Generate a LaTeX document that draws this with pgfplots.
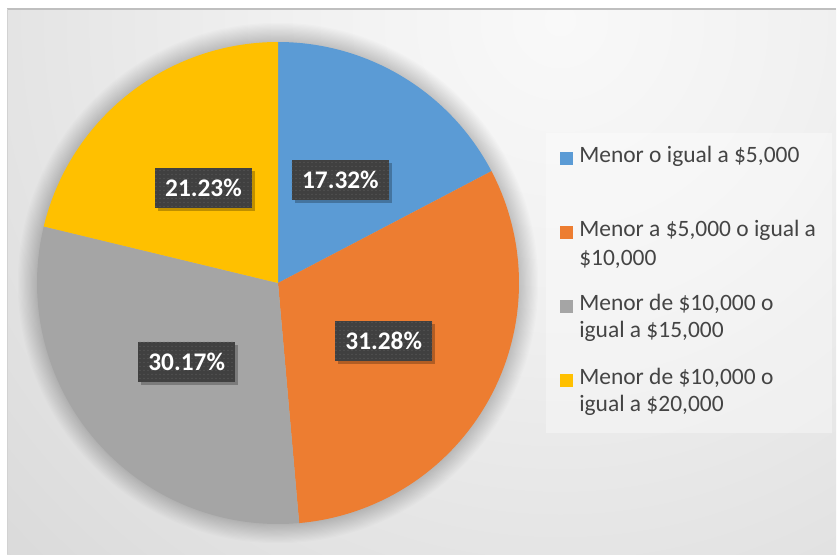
\documentclass[border=0pt]{standalone}
\usepackage{pgfplots}
\pgfplotsset{compat=1.18}
\usepackage{pgfplotstable}
\usepackage{fontspec}
\setmainfont{Carlito}
\usetikzlibrary{shadows,patterns}

\definecolor{sBlue}{HTML}{5B9BD5}
\definecolor{sOrange}{HTML}{ED7D31}
\definecolor{sGray}{HTML}{A5A5A5}
\definecolor{sYellow}{HTML}{FFC000}
\definecolor{lblbg}{HTML}{404040}
\definecolor{legtext}{HTML}{444444}
\definecolor{frameline}{HTML}{BFBFBF}
\definecolor{bgA}{HTML}{F9F9F9}
\definecolor{bgB}{HTML}{F1F1F1}
\definecolor{bgC}{HTML}{D9D9D9}
\definecolor{bgD}{HTML}{CCCCCC}
\definecolor{bgE}{HTML}{C2C2C2}

\pgfdeclareradialshading{bgshade}{\pgfpoint{0bp}{0bp}}{color(0bp)=(bgA); color(8bp)=(bgB); color(25bp)=(bgC); color(35bp)=(bgD); color(50bp)=(bgE)}

% shares of each income range, in percent
\pgfplotstableread{
idx value
0 17.32
1 31.28
2 30.17
3 21.23
}\piedata

\pgfplotstablegetelem{0}{value}\of\piedata \let\vA\pgfplotsretval
\pgfplotstablegetelem{1}{value}\of\piedata \let\vB\pgfplotsretval
\pgfplotstablegetelem{2}{value}\of\piedata \let\vC\pgfplotsretval
\pgfplotstablegetelem{3}{value}\of\piedata \let\vD\pgfplotsretval

% slice angles, clockwise from the top
\pgfmathsetmacro\aA{90}
\pgfmathsetmacro\aB{\aA-3.6*\vA}
\pgfmathsetmacro\aC{\aB-3.6*\vB}
\pgfmathsetmacro\aD{\aC-3.6*\vC}
\pgfmathsetmacro\aE{\aD-3.6*\vD}
\pgfmathsetmacro\mA{(\aA+\aB)/2}
\pgfmathsetmacro\mB{(\aB+\aC)/2}
\pgfmathsetmacro\mC{(\aC+\aD)/2}
\pgfmathsetmacro\mD{(\aD+\aE)/2}

\def\cx{278}\def\cy{271}
\def\R{180.75pt}

\tikzset{
  lbl/.style={fill=lblbg, text=white, font=\fontsize{19}{22}\selectfont\bfseries,
    minimum width=72.75pt, minimum height=30pt, inner sep=0pt,
    postaction={pattern=dots, pattern color=lblbg!88!white},
    drop shadow={shadow xshift=2.2pt, shadow yshift=-2.2pt, opacity=0.25, fill=black}},
  legtxt/.style={anchor=mid west, inner sep=0pt, text=legtext,
    font=\fontsize{17.6}{21}\selectfont},
}

\begin{document}
\begin{tikzpicture}
\begin{axis}[
    x=0.75pt, y=0.75pt,
    xmin=0, xmax=837, ymin=0, ymax=554,
    hide axis,
    clip=false,
]
% chart area
\fill[white] (axis cs:0,0) rectangle (axis cs:837,554);
\begin{scope}
\clip (axis cs:7,0) rectangle (axis cs:836,545);
\shade[shading=bgshade] (axis cs:560,534) circle[radius=600pt];
\end{scope}
\draw[frameline, line width=1.2pt] (axis cs:7,545) -- (axis cs:836,545);
\draw[frameline!70!white, line width=0.6pt] (axis cs:7,0) -- (axis cs:7,545);

% soft halo around the pie
\pgfplotsinvokeforeach{1,...,16}{
  \fill[black, opacity=0.012] (axis cs:\cx,\cy) circle[radius={180.75pt+#1*0.9pt}];
}

% slices
\fill[sBlue] (axis cs:\cx,\cy) -- +(\aA:\R) arc[start angle=\aA, end angle=\aB, radius=\R] -- cycle;
\fill[sOrange] (axis cs:\cx,\cy) -- +(\aB:\R) arc[start angle=\aB, end angle=\aC, radius=\R] -- cycle;
\fill[sGray] (axis cs:\cx,\cy) -- +(\aC:\R) arc[start angle=\aC, end angle=\aD, radius=\R] -- cycle;
\fill[sYellow] (axis cs:\cx,\cy) -- +(\aD:\R) arc[start angle=\aD, end angle=\aE, radius=\R] -- cycle;

% data labels at half radius
\node[lbl] at (axis cs:{\cx+120.5*cos(\mA)},{\cy+120.5*sin(\mA)}) {\vA\%};
\node[lbl] at (axis cs:{\cx+120.5*cos(\mB)},{\cy+120.5*sin(\mB)}) {\vB\%};
\node[lbl] at (axis cs:{\cx+120.5*cos(\mC)},{\cy+120.5*sin(\mC)}) {\vC\%};
\node[lbl] at (axis cs:{\cx+120.5*cos(\mD)},{\cy+120.5*sin(\mD)}) {\vD\%};

% legend
\fill[white, opacity=0.35] (axis cs:546,121) rectangle (axis cs:832,421);
\fill[sBlue] (axis cs:560,389) rectangle (axis cs:573,402);
\fill[sOrange] (axis cs:560,315) rectangle (axis cs:573,328);
\fill[sGray] (axis cs:560,241) rectangle (axis cs:573,254);
\fill[sYellow] (axis cs:560,167) rectangle (axis cs:573,180);
\node[legtxt] at (axis cs:579,395) {Menor o igual a \$5,000};
\node[legtxt] at (axis cs:579,321) {Menor a \$5,000 o igual a};
\node[legtxt] at (axis cs:579,292) {\$10,000};
\node[legtxt] at (axis cs:579,247) {Menor de \$10,000 o};
\node[legtxt] at (axis cs:579,220) {igual a \$15,000};
\node[legtxt] at (axis cs:579,173) {Menor de \$10,000 o};
\node[legtxt] at (axis cs:579,146) {igual a \$20,000};
\end{axis}
\end{tikzpicture}
\end{document}
